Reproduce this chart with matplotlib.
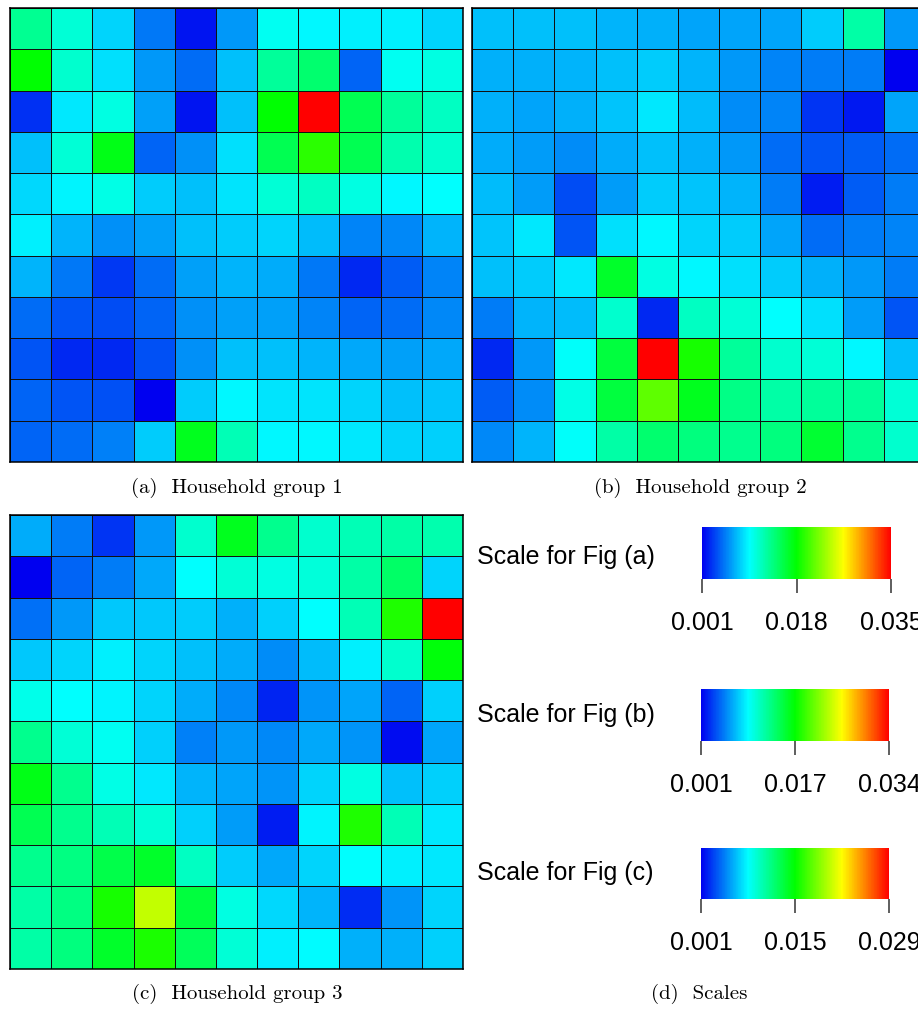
"""
Three household-group heatmaps (11x11) with their colour scales.
"""

import matplotlib
matplotlib.use("Agg")
import matplotlib.pyplot as plt
import numpy as np
from matplotlib.colors import LinearSegmentedColormap, Normalize

# values, row 0 = top row
group1 = [
    [0.0132, 0.0109, 0.0081, 0.0051, 0.0017, 0.0061, 0.0100, 0.0093, 0.0090, 0.0090, 0.0081],
    [0.0180, 0.0112, 0.0085, 0.0061, 0.0047, 0.0075, 0.0129, 0.0143, 0.0044, 0.0100, 0.0105],
    [0.0027, 0.0088, 0.0105, 0.0064, 0.0017, 0.0075, 0.0180, 0.0350, 0.0153, 0.0129, 0.0115],
    [0.0075, 0.0109, 0.0173, 0.0044, 0.0058, 0.0085, 0.0153, 0.0194, 0.0153, 0.0122, 0.0112],
    [0.0083, 0.0092, 0.0104, 0.0078, 0.0075, 0.0087, 0.0109, 0.0115, 0.0105, 0.0093, 0.0095],
    [0.0090, 0.0071, 0.0058, 0.0064, 0.0075, 0.0078, 0.0081, 0.0073, 0.0054, 0.0056, 0.0070],
    [0.0070, 0.0051, 0.0029, 0.0047, 0.0064, 0.0070, 0.0068, 0.0051, 0.0024, 0.0041, 0.0054],
    [0.0047, 0.0039, 0.0036, 0.0044, 0.0058, 0.0064, 0.0064, 0.0054, 0.0044, 0.0047, 0.0056],
    [0.0039, 0.0024, 0.0024, 0.0037, 0.0058, 0.0075, 0.0075, 0.0071, 0.0066, 0.0064, 0.0066],
    [0.0044, 0.0039, 0.0037, 0.0010, 0.0078, 0.0093, 0.0087, 0.0087, 0.0081, 0.0075, 0.0076],
    [0.0044, 0.0047, 0.0053, 0.0078, 0.0170, 0.0119, 0.0093, 0.0093, 0.0088, 0.0081, 0.0080],
]

group2 = [
    [0.0073, 0.0073, 0.0073, 0.0069, 0.0068, 0.0064, 0.0063, 0.0063, 0.0076, 0.0122, 0.0060],
    [0.0068, 0.0068, 0.0069, 0.0073, 0.0076, 0.0069, 0.0060, 0.0053, 0.0050, 0.0050, 0.0010],
    [0.0068, 0.0064, 0.0068, 0.0074, 0.0086, 0.0071, 0.0056, 0.0053, 0.0027, 0.0018, 0.0063],
    [0.0066, 0.0061, 0.0056, 0.0066, 0.0073, 0.0068, 0.0060, 0.0046, 0.0038, 0.0040, 0.0046],
    [0.0071, 0.0061, 0.0035, 0.0061, 0.0076, 0.0074, 0.0069, 0.0050, 0.0020, 0.0040, 0.0050],
    [0.0074, 0.0086, 0.0038, 0.0083, 0.0091, 0.0079, 0.0076, 0.0063, 0.0046, 0.0050, 0.0053],
    [0.0073, 0.0076, 0.0086, 0.0162, 0.0102, 0.0091, 0.0083, 0.0076, 0.0068, 0.0060, 0.0050],
    [0.0050, 0.0069, 0.0071, 0.0109, 0.0023, 0.0112, 0.0106, 0.0093, 0.0083, 0.0061, 0.0038],
    [0.0023, 0.0060, 0.0094, 0.0155, 0.0340, 0.0182, 0.0126, 0.0109, 0.0106, 0.0091, 0.0073],
    [0.0040, 0.0056, 0.0101, 0.0155, 0.0205, 0.0165, 0.0132, 0.0122, 0.0126, 0.0126, 0.0106],
    [0.0055, 0.0069, 0.0094, 0.0122, 0.0139, 0.0135, 0.0129, 0.0135, 0.0159, 0.0129, 0.0109],
]

group3 = [
    [0.0058, 0.0044, 0.0025, 0.0052, 0.0094, 0.0142, 0.0111, 0.0094, 0.0100, 0.0105, 0.0102],
    [0.0010, 0.0038, 0.0045, 0.0056, 0.0080, 0.0091, 0.0088, 0.0090, 0.0105, 0.0122, 0.0069],
    [0.0041, 0.0052, 0.0065, 0.0065, 0.0066, 0.0059, 0.0067, 0.0080, 0.0100, 0.0158, 0.0290],
    [0.0065, 0.0069, 0.0076, 0.0069, 0.0063, 0.0058, 0.0049, 0.0062, 0.0076, 0.0094, 0.0147],
    [0.0086, 0.0080, 0.0077, 0.0069, 0.0058, 0.0048, 0.0020, 0.0051, 0.0055, 0.0038, 0.0067],
    [0.0111, 0.0091, 0.0084, 0.0067, 0.0046, 0.0052, 0.0048, 0.0056, 0.0051, 0.0014, 0.0055],
    [0.0144, 0.0111, 0.0087, 0.0074, 0.0060, 0.0055, 0.0051, 0.0069, 0.0088, 0.0063, 0.0067],
    [0.0128, 0.0111, 0.0100, 0.0091, 0.0067, 0.0053, 0.0018, 0.0077, 0.0158, 0.0100, 0.0074],
    [0.0111, 0.0114, 0.0130, 0.0139, 0.0097, 0.0066, 0.0056, 0.0069, 0.0080, 0.0076, 0.0074],
    [0.0105, 0.0114, 0.0156, 0.0203, 0.0133, 0.0088, 0.0070, 0.0060, 0.0023, 0.0051, 0.0069],
    [0.0105, 0.0116, 0.0139, 0.0157, 0.0125, 0.0091, 0.0076, 0.0079, 0.0059, 0.0059, 0.0067],
]

captions = ["(a)  Household group 1", "(b)  Household group 2",
            "(c)  Household group 3", "(d)  Scales"]
scale_names = ["Scale for Fig (a)", "Scale for Fig (b)", "Scale for Fig (c)"]
scale_ranges = [(0.001, 0.035), (0.001, 0.034), (0.001, 0.029)]
scale_ticks = [[0.001, 0.018, 0.035], [0.001, 0.0175, 0.034], [0.001, 0.015, 0.029]]
scale_ticklabels = [["0.001", "0.018", "0.035"],
                    ["0.001", "0.017", "0.034"],
                    ["0.001", "0.015", "0.029"]]

W, H = 918, 1010
cmap = LinearSegmentedColormap.from_list(
    "bcgyr", ["#0000f0", "#00ffff", "#00ff00", "#ffff00", "#ff0000"])
sans = ["Liberation Sans", "DejaVu Sans"]


def fr(x0, y0, x1, y1):
    # pixel box (top-left origin) -> figure fraction rect
    return [x0 / W, 1 - y1 / H, (x1 - x0) / W, (y1 - y0) / H]


def draw_grid(fig, rect, data, vrange):
    ax = fig.add_axes(rect)
    arr = np.array(data)
    ax.pcolormesh(arr, cmap=cmap, norm=Normalize(*vrange),
                  edgecolors="#111111", linewidth=0.6)
    ax.set_xlim(0, arr.shape[1])
    ax.set_ylim(arr.shape[0], 0)
    ax.set_xticks([])
    ax.set_yticks([])
    for s in ax.spines.values():
        s.set_linewidth(1.1)
    return ax


fig = plt.figure(figsize=(W / 100, H / 100), dpi=100)

draw_grid(fig, fr(10, 8, 463, 462), group1, scale_ranges[0])
draw_grid(fig, fr(472, 8, 925, 462), group2, scale_ranges[1])
draw_grid(fig, fr(10, 515, 463, 969), group3, scale_ranges[2])

cap_pos = [(237, 488), (700, 488), (237, 994), (699, 994)]
for txt, (x, y) in zip(captions, cap_pos):
    fig.text(x / W, 1 - y / H, txt, ha="center", va="center",
             family="cmr10", fontsize=15)

bar_boxes = [(702, 527, 891, 579), (701, 689, 889, 741), (701, 848, 889, 899)]
name_y = [557, 715, 873]
for i in range(3):
    cax = fig.add_axes(fr(*bar_boxes[i]))
    sm = plt.cm.ScalarMappable(norm=Normalize(*scale_ranges[i]), cmap=cmap)
    cb = fig.colorbar(sm, cax=cax, orientation="horizontal",
                      ticks=scale_ticks[i])
    cb.outline.set_visible(False)
    cb.ax.set_xticklabels(scale_ticklabels[i], family=sans, fontsize=18)
    cb.ax.tick_params(axis="x", direction="out", length=10, width=1.1,
                      color="#333333", pad=13)
    fig.text(477 / W, 1 - name_y[i] / H, scale_names[i], ha="left",
             va="center", family=sans, fontsize=18)

fig.savefig("out.png", dpi=100)
